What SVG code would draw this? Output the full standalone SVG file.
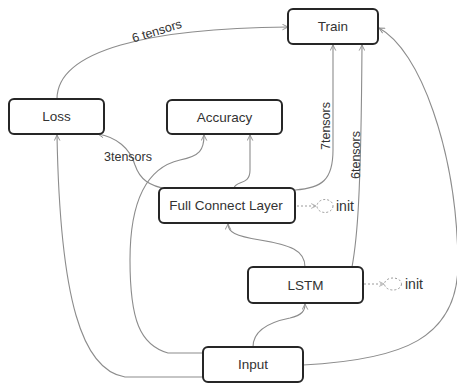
<svg xmlns="http://www.w3.org/2000/svg" width="457" height="385" viewBox="0 0 457 385">
  <style>
    .node rect { fill: #ffffff; stroke: #262626; stroke-width: 2; }
    .node text { font-family: "Liberation Sans", Arial, sans-serif; font-size: 13.5px; fill: #333333; text-anchor: middle; dominant-baseline: central; }
    .edge { fill: none; stroke: #8c8c8c; stroke-width: 1.1; marker-end: url(#arrow); }
    .dash { fill: none; stroke: #9a9a9a; stroke-width: 1; stroke-dasharray: 2 2; }
    .lbl { font-family: "Liberation Sans", Arial, sans-serif; font-size: 12.5px; fill: #333333; }
    .init { font-family: "Liberation Sans", Arial, sans-serif; font-size: 14px; fill: #333333; }
  </style>
  <defs>
    <marker id="arrow" viewBox="0 0 10 10" refX="9" refY="5" markerWidth="7" markerHeight="7" orient="auto" markerUnits="userSpaceOnUse">
      <path d="M1,1 L9,5 L1,9" fill="none" stroke="#8c8c8c" stroke-width="1.3"/>
    </marker>
    <marker id="arrowd" viewBox="0 0 10 10" refX="9" refY="5" markerWidth="6" markerHeight="6" orient="auto" markerUnits="userSpaceOnUse">
      <path d="M1,1 L9,5 L1,9" fill="none" stroke="#9a9a9a" stroke-width="1.3"/>
    </marker>
  </defs>

  <g id="connectors">
    <!-- Loss -> Train -->
    <path class="edge" d="M57,99 C57,50 150,28 288,27"/>
    <!-- Input -> Loss -->
    <path class="edge" d="M203,377 L125,377 C82,370 60,300 57,135"/>
    <!-- Input -> Accuracy -->
    <path class="edge" d="M203,353 L168,353 C140,345 130,320 130,260 C130,205 145,168 180,160 C200,156 204,150 204,135"/>
    <!-- Full Connect Layer -> Loss -->
    <path class="edge" d="M167,189 C150,186 140,180 135,165 C130,148 116,137 98,134"/>
    <!-- Full Connect Layer -> Accuracy -->
    <path class="edge" d="M234,188 C236,180 250,186 250,170 L250,135"/>
    <!-- Full Connect Layer -> Train -->
    <path class="edge" d="M295,190 C322,188 333,180 333,150 L333,45"/>
    <!-- LSTM -> Train -->
    <path class="edge" d="M352,267 C357,240 361,200 362,45"/>
    <!-- Input -> Train -->
    <path class="edge" d="M303,365 C400,360 460,340 458,260 C456,150 420,50 379,28"/>
    <!-- Input -> LSTM -->
    <path class="edge" d="M253,347 C253,330 270,322 290,318 C302,315 305,311 305,304"/>
    <!-- LSTM -> Full Connect Layer -->
    <path class="edge" d="M305,267 C305,250 290,245 260,240 C235,236 228,232 228,224"/>

    <text class="lbl" transform="translate(158,35) rotate(-17)" text-anchor="middle">6 tensors</text>
    <text class="lbl" x="128" y="161" text-anchor="middle">3tensors</text>
    <text class="lbl" transform="translate(330,126) rotate(-90)" text-anchor="middle">7tensors</text>
    <text class="lbl" transform="translate(360,155) rotate(-90)" text-anchor="middle">6tensors</text>
  </g>

  <g id="train" class="node">
    <rect x="288" y="9" width="90" height="35" rx="5"/>
    <text x="333" y="26.5">Train</text>
  </g>
  <g id="loss" class="node">
    <rect x="9" y="99" width="95" height="35" rx="5"/>
    <text x="56.5" y="116.5">Loss</text>
  </g>
  <g id="accuracy" class="node">
    <rect x="167" y="100" width="115" height="34" rx="5"/>
    <text x="224.5" y="117">Accuracy</text>
  </g>
  <g id="full-connect-layer" class="node">
    <rect x="159" y="188" width="136" height="35" rx="5"/>
    <text x="226" y="205.5">Full Connect Layer</text>
  </g>
  <g id="lstm" class="node">
    <rect x="248" y="267" width="115" height="36" rx="5"/>
    <text x="305.5" y="285">LSTM</text>
  </g>
  <g id="input" class="node">
    <rect x="203" y="347" width="100" height="35" rx="5"/>
    <text x="253" y="364.5">Input</text>
  </g>

  <g id="fcl-init">
    <path class="dash" d="M297,206 L316,206" marker-end="url(#arrowd)"/>
    <ellipse class="dash" cx="325" cy="206" rx="8" ry="6.5"/>
    <text class="init" x="336" y="211">init</text>
  </g>
  <g id="lstm-init">
    <path class="dash" d="M364,284 L384,284" marker-end="url(#arrowd)"/>
    <ellipse class="dash" cx="393" cy="284" rx="8.5" ry="6"/>
    <text class="init" x="405" y="289">init</text>
  </g>
</svg>
